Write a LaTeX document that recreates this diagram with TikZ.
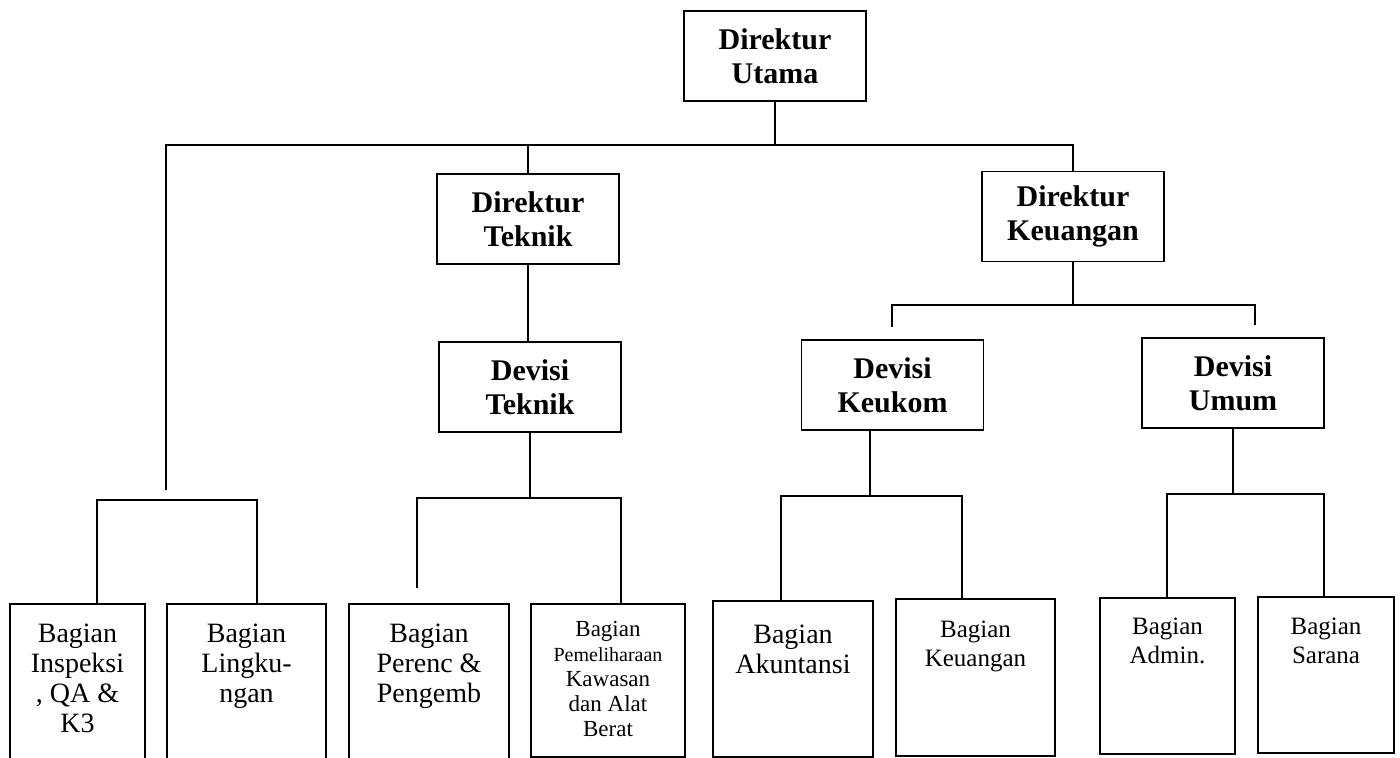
\documentclass[tikz,border=0pt]{standalone}
\usepackage{fontspec}
\setmainfont{Liberation Serif}
\tikzset{every node/.style={inner sep=0pt},
  boss/.style={draw,minimum width=91pt,minimum height=45pt,align=center,font=\bfseries\fontsize{15}{17}\selectfont},
  unit/.style={draw},
  utext/.style={anchor=north,align=center},
  tbig/.style={font=\fontsize{14}{15}\selectfont},
  tmid/.style={font=\fontsize{12.5}{14.5}\selectfont},
  tsmall/.style={font=\fontsize{11.5}{12.5}\selectfont}}

\begin{document}
\begin{tikzpicture}[x=.5pt,y=-.5pt,line width=.9pt]
    \path[fill=white] (0,0) rectangle (1400,758);
    \useasboundingbox (0,0) rectangle (1400,758);
    \node[boss] (du) at (775,56) {Direktur\\Utama};
    \node[boss] (dt) at (528,219) {Direktur\\Teknik};
    \node[boss] (dk) at (1073,216.5) {Direktur\\Keuangan};
    \node[boss] (devt) at (530,387) {Devisi\\Teknik};
    \node[boss] (devk) at (892.5,385) {Devisi\\Keukom};
    \node[boss] (devu) at (1233,383) {Devisi\\Umum};
    \foreach \n/\l/\r/\t/\b/\f/\dy/\txt in {
        insp/10/145/604/766/tbig/19/Bagian\\Inspeksi\\{,} QA \&\\K3,
        ling/167/326/604/766/tbig/19/Bagian\\Lingku-\\ngan,
        perenc/349/509/604/766/tbig/19/Bagian\\Perenc \&\\Pengemb,
        pemel/531/685/604/757/tsmall/16/Bagian\\{\fontsize{10}{12}\selectfont Pemeliharaan}\\Kawasan\\dan Alat\\Berat,
        akun/713/873/601/757/tbig/23/Bagian\\Akuntansi,
        keu/896/1055/599/756/tmid/21/Bagian\\Keuangan,
        admin/1100/1235/598/754/tmid/19/Bagian\\Admin.,
        sarana/1258/1394/597/753/tmid/20/Bagian\\Sarana}{
        \node[unit,minimum width={(\r-\l)*.5pt},minimum height={(\b-\t)*.5pt}] (\n) at ({(\l+\r)/2},{(\t+\b)/2}) {};
        \node[utext,\f] (\n-t) at ({(\l+\r)/2},{\t+\dy}) {\txt};
    }
    \coordinate (bus) at (166,145);
    \coordinate (busEnd) at (166,490);
    \coordinate (aL) at (97,500);
    \coordinate (aR) at (257,500);
    \coordinate (bL) at (417,498);
    \coordinate (bR) at (621,498);
    \coordinate (cL) at (892,305);
    \coordinate (cR) at (1255,305);
    \coordinate (dL) at (781,496);
    \coordinate (dM) at (870,496);
    \coordinate (dR) at (962,496);
    \coordinate (eL) at (1167,494);
    \coordinate (eR) at (1324,494);
    \draw (du.south) -- (du.south |- bus);
    \draw (busEnd) -- (bus) -| (dk.north);
    \draw (dt.north) -- (dt.north |- bus);
    \draw (insp.north -| aL) -- (aL) -- (aR) -- (ling.north -| aR);
    \draw (dt.south) -- (dt.south |- devt.north);
    \draw (devt.south) -- (devt.south |- bL);
    \draw[shorten <=7.5pt] (perenc.north -| bL) -- (bL) -- (bR) -- (pemel.north -| bR);
    \draw (dk.south) -- (dk.south |- cL);
    \draw[shorten <=6pt,shorten >=6pt] (devk.north -| cL) -- (cL) -- (cR) -- (devu.north -| cR);
    \draw (devk.south -| dM) -- (dM);
    \draw (akun.north -| dL) -- (dL) -- (dR) -- (keu.north -| dR);
    \draw (devu.south) -- (devu.south |- eL);
    \draw (admin.north -| eL) -- (eL) -- (eR) -- (sarana.north -| eR);
\end{tikzpicture}
\end{document}
